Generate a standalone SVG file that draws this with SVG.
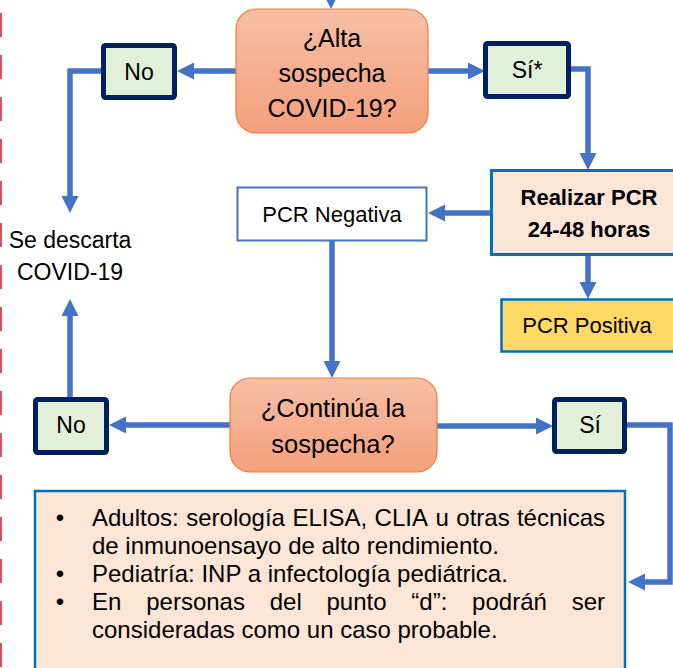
<svg xmlns="http://www.w3.org/2000/svg" width="673" height="668" viewBox="0 0 673 668">
<defs>
<linearGradient id="dec" x1="0" y1="0" x2="0" y2="1">
<stop offset="0" stop-color="#F6BEA5"/>
<stop offset="1" stop-color="#F4A07C"/>
</linearGradient>
</defs>
<style>
text{font-family:"Liberation Sans",Arial,sans-serif;fill:#000}
.t{font-size:23px;text-anchor:middle}
.d{font-size:25px;text-anchor:middle}
.b{font-size:24px}
.dec{fill:url(#dec);stroke:#ED7D31;stroke-width:1.2}
.yn{fill:#E2EFD9;stroke:#002060;stroke-width:5}
.line{fill:none;stroke:#4472C4;stroke-width:5.5}
.head{fill:#4472C4}
</style>
<line x1="1" y1="13" x2="1" y2="668" stroke="#DC5060" stroke-width="2" stroke-dasharray="24 18"/>

<g id="connectors">
<polygon class="head" points="331,9 322.5,-8 339.5,-8"/>
<line class="line" x1="236" y1="71" x2="192" y2="71"/>
<polygon class="head" points="177,71 194,62.5 194,79.5"/>
<path class="line" d="M101,71 H70 V198"/>
<polygon class="head" points="70,213 61.5,196 78.5,196"/>
<line class="line" x1="428" y1="71" x2="470" y2="71"/>
<polygon class="head" points="485,71 468,62.5 468,79.5"/>
<path class="line" d="M571,69 H588 V155"/>
<polygon class="head" points="588,170 579.5,153 596.5,153"/>
<line class="line" x1="491" y1="213" x2="443" y2="213"/>
<polygon class="head" points="428,213 445,204.5 445,221.5"/>
<line class="line" x1="588" y1="255" x2="588" y2="284"/>
<polygon class="head" points="588,299 579.5,282 596.5,282"/>
<line class="line" x1="332" y1="241" x2="332" y2="363"/>
<polygon class="head" points="332,378 323.5,361 340.5,361"/>
<line class="line" x1="230" y1="425" x2="124" y2="425"/>
<polygon class="head" points="109,425 126,416.5 126,433.5"/>
<line class="line" x1="70" y1="397" x2="70" y2="314"/>
<polygon class="head" points="70,299 61.5,316 78.5,316"/>
<line class="line" x1="437" y1="426" x2="538" y2="426"/>
<polygon class="head" points="553,426 536,417.5 536,434.5"/>
<path class="line" d="M627,425 H670 V582 H643"/>
<polygon class="head" points="628,582 645,573.5 645,590.5"/>
</g>

<g id="alta">
<rect class="dec" x="236" y="9" width="192" height="124" rx="20"/>
<text class="d" x="332" y="47">¿Alta</text>
<text class="d" x="332" y="82">sospecha</text>
<text class="d" x="332" y="117">COVID-19?</text>
</g>
<g id="no1">
<rect class="yn" x="103.5" y="45.5" width="71" height="52" rx="2"/>
<text class="t" x="139" y="80">No</text>
</g>
<g id="si1">
<rect class="yn" x="485.5" y="43.5" width="83" height="53" rx="2"/>
<text class="t" x="527" y="78">Sí*</text>
</g>
<g id="descarta">
<text class="t" x="70" y="248">Se descarta</text>
<text class="t" x="70" y="280">COVID-19</text>
</g>
<g id="pcrneg">
<rect x="237.5" y="187.5" width="189" height="53" fill="#FFFFFF" stroke="#4472C4" stroke-width="2"/>
<text x="332" y="222" style="font-size:22px;text-anchor:middle">PCR Negativa</text>
</g>
<g id="realizar">
<rect x="491.5" y="170.5" width="200" height="84" fill="#FBE5D6" stroke="#0070C0" stroke-width="3"/>
<text x="589" y="205" style="font-size:22px;font-weight:bold;text-anchor:middle">Realizar PCR</text>
<text x="589" y="237" style="font-size:22px;font-weight:bold;text-anchor:middle">24-48 horas</text>
</g>
<g id="pcrpos">
<rect x="501.5" y="299.5" width="200" height="52" fill="#FFD966" stroke="#0070C0" stroke-width="2.5"/>
<text x="587" y="333" style="font-size:22px;text-anchor:middle">PCR Positiva</text>
</g>
<g id="continua">
<rect class="dec" x="230" y="378" width="207" height="94" rx="20"/>
<text class="d" x="333" y="417" style="font-size:25.5px">¿Continúa la</text>
<text class="d" x="333" y="453" style="font-size:25.5px">sospecha?</text>
</g>
<g id="no2">
<rect class="yn" x="35.5" y="399.5" width="71" height="53" rx="2"/>
<text class="t" x="71" y="433">No</text>
</g>
<g id="si2">
<rect class="yn" x="554.5" y="399.5" width="70" height="52" rx="2"/>
<text class="t" x="590" y="433">Sí</text>
</g>
<g id="nota">
<rect x="35" y="491" width="590" height="190" fill="#FBE5D6" stroke="#0070C0" stroke-width="2.5"/>
<g class="b">
<text x="60" y="526" style="text-anchor:middle;font-size:24px">•</text>
<text x="92" y="526" style="font-size:24px">Adultos:</text>
<text x="186.2" y="526" style="font-size:24px">serología</text>
<text x="292.4" y="526" style="font-size:24px">ELISA,</text>
<text x="374.6" y="526" style="font-size:24px">CLIA</text>
<text x="435.5" y="526" style="font-size:24px">u</text>
<text x="456.3" y="526" style="font-size:24px">otras</text>
<text x="605" y="526" style="font-size:24px;text-anchor:end">técnicas</text>
<text x="92" y="554" style="font-size:24px">de inmunoensayo de alto rendimiento.</text>
<text x="60" y="582" style="text-anchor:middle;font-size:24px">•</text>
<text x="92" y="582" style="font-size:24px">Pediatría: INP a infectología pediátrica.</text>
<text x="60" y="610" style="text-anchor:middle;font-size:24px">•</text>
<text x="92" y="610" style="font-size:24px">En</text>
<text x="146.2" y="610" style="font-size:24px">personas</text>
<text x="269.7" y="610" style="font-size:24px">del</text>
<text x="326.5" y="610" style="font-size:24px">punto</text>
<text x="411.3" y="610" style="font-size:24px">“d”:</text>
<text x="472.1" y="610" style="font-size:24px">podráń</text>
<text x="605" y="610" style="font-size:24px;text-anchor:end">ser</text>
<text x="92" y="638" style="font-size:24px">consideradas como un caso probable.</text>
</g>
</g>
</svg>
